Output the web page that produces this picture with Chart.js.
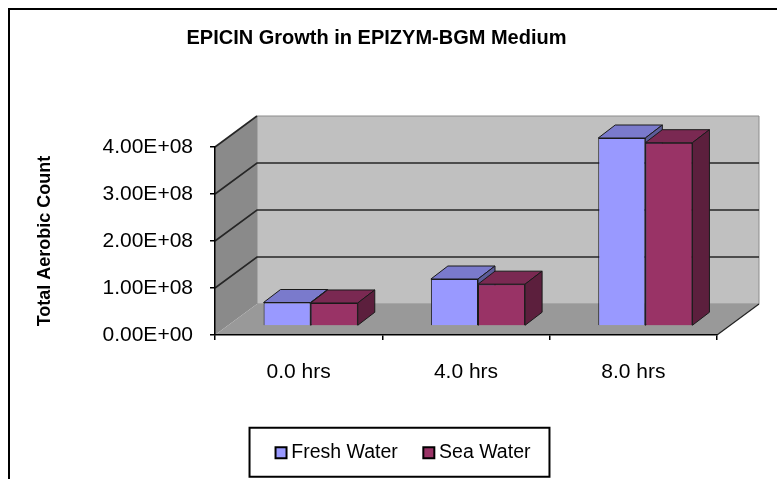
<!DOCTYPE html>
<html>
<head>
<meta charset="utf-8">
<script src="https://cdn.jsdelivr.net/npm/chart.js@4/dist/chart.umd.min.js"></script>
<style>
  html, body { margin: 0; padding: 0; background: #fff; }
  canvas { display: block; }
</style>
</head>
<body>
<canvas id="chart" width="777" height="479"></canvas>
<script>
const categories = ['0.0 hrs', '4.0 hrs', '8.0 hrs'];
const freshWater = [5.0e7, 1.0e8, 4.0e8];
const seaWater = [4.9e7, 8.9e7, 3.9e8];
const yMin = 0;
const yMax = 4e8;
const yStep = 1e8;

// 3D look (pixels)
const WALL = { dx: 42, dy: -31 };
const BAR_SHIFT = { dx: 12, dy: -9 };
const BAR_DEPTH = { dx: 17, dy: -13 };
const LEGEND_SHIFT = 43;
const TITLE_SHIFT = 14;

Chart.defaults.font.family = "'Liberation Sans', Arial, sans-serif";
Chart.defaults.color = '#000';

function sciLabel(v) {
  const parts = Number(v).toExponential(2).split('e');
  const exp = Number(parts[1]);
  const sign = exp < 0 ? '-' : '+';
  return parts[0] + 'E' + sign + String(Math.abs(exp)).padStart(2, '0');
}

function poly(ctx, pts, fill, stroke) {
  ctx.beginPath();
  ctx.moveTo(pts[0][0], pts[0][1]);
  for (let i = 1; i < pts.length; i++) ctx.lineTo(pts[i][0], pts[i][1]);
  ctx.closePath();
  if (fill) { ctx.fillStyle = fill; ctx.fill(); }
  if (stroke) { ctx.strokeStyle = stroke; ctx.lineWidth = 1; ctx.stroke(); }
}

const shades = {
  'Fresh Water': { top: '#7a7acc', side: '#5c5c99' },
  'Sea Water': { top: '#7a2952', side: '#5c1f3d' },
};

const walls = {
  id: 'walls',
  beforeDraw(chart) {
    const { ctx, chartArea: a, scales } = chart;
    const y = scales.y;
    ctx.save();
    ctx.fillStyle = '#fff';
    ctx.fillRect(0, 0, chart.width, chart.height);
    // outer frame
    ctx.strokeStyle = '#000';
    ctx.lineWidth = 2;
    ctx.strokeRect(9, 9, chart.width + 20, chart.height + 20);

    const y0 = y.getPixelForValue(yMin);
    const y1 = y.getPixelForValue(yMax);
    const L = a.left, R = a.right;
    // back wall
    poly(ctx, [[L + WALL.dx, y1 + WALL.dy], [R + WALL.dx, y1 + WALL.dy], [R + WALL.dx, y0 + WALL.dy], [L + WALL.dx, y0 + WALL.dy]], '#c0c0c0', '#8c8c8c');
    // side wall
    poly(ctx, [[L, y1], [L + WALL.dx, y1 + WALL.dy], [L + WALL.dx, y0 + WALL.dy], [L, y0]], '#8a8a8a', null);
    // floor
    poly(ctx, [[L, y0], [R, y0], [R + WALL.dx, y0 + WALL.dy], [L + WALL.dx, y0 + WALL.dy]], '#999999', null);
    ctx.strokeStyle = '#222';
    ctx.lineWidth = 1.2;
    ctx.beginPath();
    ctx.moveTo(R, y0);
    ctx.lineTo(R + WALL.dx, y0 + WALL.dy);
    ctx.stroke();

    // gridlines on side and back walls
    ctx.strokeStyle = '#262626';
    ctx.lineWidth = 1.6;
    y.ticks.forEach((t) => {
      if (t.value <= yMin) return;
      const py = y.getPixelForValue(t.value);
      ctx.beginPath();
      ctx.moveTo(L, py);
      ctx.lineTo(L + WALL.dx, py + WALL.dy);
      if (t.value < yMax) ctx.lineTo(R + WALL.dx, py + WALL.dy);
      ctx.stroke();
    });
    ctx.restore();
  },
};

const bars3d = {
  id: 'bars3d',
  beforeDatasetsDraw(chart) {
    chart.ctx.save();
    chart.ctx.translate(BAR_SHIFT.dx, BAR_SHIFT.dy);
  },
  afterDatasetsDraw(chart) {
    const ctx = chart.ctx;
    chart.data.datasets.forEach((ds, i) => {
      const meta = chart.getDatasetMeta(i);
      const sh = shades[ds.label];
      meta.data.forEach((bar) => {
        const { x, y, base, width } = bar.getProps(['x', 'y', 'base', 'width'], true);
        const l = x - width / 2, r = x + width / 2;
        if (i > 0) bar.draw(ctx);
        poly(ctx, [[l, y], [l + BAR_DEPTH.dx, y + BAR_DEPTH.dy], [r + BAR_DEPTH.dx, y + BAR_DEPTH.dy], [r, y]], sh.top, '#1a1a1a');
        poly(ctx, [[r, y], [r + BAR_DEPTH.dx, y + BAR_DEPTH.dy], [r + BAR_DEPTH.dx, base + BAR_DEPTH.dy], [r, base]], sh.side, '#1a1a1a');
      });
    });
    ctx.restore();
  },
};

const boxLayout = {
  id: 'boxLayout',
  afterLayout(chart) {
    chart.legend.left += LEGEND_SHIFT;
    chart.legend.right += LEGEND_SHIFT;
    chart.titleBlock.left += TITLE_SHIFT;
    chart.titleBlock.right += TITLE_SHIFT;
  },
  afterDraw(chart) {
    const boxes = chart.legend.legendHitBoxes;
    if (!boxes || !boxes.length) return;
    const first = boxes[0], last = boxes[boxes.length - 1];
    const cy = first.top + first.height / 2;
    const x0 = first.left - 31;
    const x1 = last.left + last.width + 19;
    const ctx = chart.ctx;
    ctx.save();
    ctx.strokeStyle = '#000';
    ctx.lineWidth = 2;
    ctx.strokeRect(x0, cy - 25, x1 - x0, 49);
    ctx.restore();
  },
};

new Chart(document.getElementById('chart'), {
  type: 'bar',
  data: {
    labels: categories,
    datasets: [
      { label: 'Fresh Water', data: freshWater, backgroundColor: '#9999ff', borderColor: '#1a1a1a', borderWidth: 1, clip: false },
      { label: 'Sea Water', data: seaWater, backgroundColor: '#993366', borderColor: '#1a1a1a', borderWidth: 1, clip: false },
    ],
  },
  options: {
    responsive: false,
    animation: false,
    devicePixelRatio: 1,
    layout: { padding: { left: 8, right: 60, top: 0, bottom: 6.5 } },
    datasets: { bar: { categoryPercentage: 0.563, barPercentage: 1 } },
    plugins: {
      title: {
        display: true,
        text: 'EPICIN Growth in EPIZYM-BGM Medium',
        font: { size: 20, weight: 'bold' },
        color: '#000',
        padding: { top: 26, bottom: 97 },
      },
      legend: {
        position: 'bottom',
        labels: {
          usePointStyle: true,
          pointStyle: 'rect',
          boxWidth: 1,
          boxHeight: 11,
          padding: 30.5,
          font: { size: 19.5 },
          color: '#000',
          sort: (a, b) => a.datasetIndex - b.datasetIndex,
          generateLabels: (chart) =>
            Chart.defaults.plugins.legend.labels.generateLabels(chart).map((l) => ({ ...l, lineWidth: 2, strokeStyle: '#000' })),
        },
      },
      tooltip: { enabled: false },
    },
    scales: {
      x: {
        grid: { offset: true, drawOnChartArea: false, drawTicks: true, tickLength: 5, color: '#000', lineWidth: 1.5 },
        border: { display: true, color: '#000', width: 1.5 },
        ticks: { font: { size: 21 }, color: '#000', padding: 20 },
        afterFit: (s) => { s.height = 77.5; },
      },
      y: {
        min: yMin,
        max: yMax,
        ticks: { stepSize: yStep, callback: (v) => sciLabel(v), font: { size: 21 }, color: '#000', padding: 17 },
        grid: { drawOnChartArea: false, tickLength: 5, color: '#000', lineWidth: 1.5 },
        border: { display: true, color: '#000', width: 1.5 },
        title: {
          display: true,
          text: 'Total Aerobic Count',
          font: { size: 18, weight: 'bold' },
          color: '#000',
          padding: { top: 26, bottom: 0 },
        },
        afterFit: (s) => { s.width = 207; },
      },
    },
  },
  plugins: [walls, bars3d, boxLayout],
});
</script>
</body>
</html>
